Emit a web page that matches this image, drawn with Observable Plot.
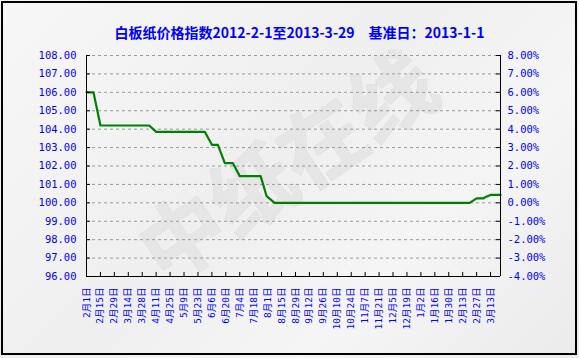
<!DOCTYPE html>
<html>
<head>
<meta charset="utf-8">
<script src="https://cdn.jsdelivr.net/npm/d3@7"></script>
<script src="https://cdn.jsdelivr.net/npm/@observablehq/plot@0.6"></script>
<style>
  html, body { margin: 0; padding: 0; background: #fff; }
  #wrap { position: relative; width: 579px; height: 358px; overflow: hidden;
          background: linear-gradient(135deg, #f7f7f7 0%, #efefef 45%, #f5f5f5 70%, #ebebeb 100%); }
  #border { position: absolute; left: 1px; top: 1px; width: 576px; height: 354px;
            border: 2px solid #000; box-sizing: border-box; pointer-events: none; }
  #chart { position: absolute; left: 0; top: 0; }
</style>
</head>
<body>
<div id="wrap"><div id="chart"></div><div id="border"></div></div>
<script>
// ---- data ----
const titleText = "白板纸价格指数2012-2-1至2013-3-29　基准日：2013-1-1";
const seriesDates = ["2012-02-01","2012-02-08","2012-02-15","2012-04-04","2012-04-11","2012-05-30",
  "2012-06-06","2012-06-12","2012-06-19","2012-06-27","2012-07-04","2012-07-25","2012-07-31",
  "2012-08-08","2013-02-20","2013-02-27","2013-03-06","2013-03-08","2013-03-13","2013-03-23"];
const seriesValues = [106.0,106.0,104.2,104.2,103.85,103.85,
  103.15,103.15,102.16,102.16,101.45,101.45,100.36,
  100.0,100.0,100.24,100.24,100.32,100.43,100.43];
const xTickDates = ["2012-02-01","2012-02-15","2012-02-29","2012-03-14","2012-03-28","2012-04-11",
  "2012-04-25","2012-05-09","2012-05-23","2012-06-06","2012-06-20","2012-07-04","2012-07-18",
  "2012-08-01","2012-08-15","2012-08-29","2012-09-12","2012-09-26","2012-10-10","2012-10-24",
  "2012-11-07","2012-11-21","2012-12-05","2012-12-19","2013-01-02","2013-01-16","2013-01-30",
  "2013-02-13","2013-02-27","2013-03-13"];
const xTickLabels = ["2月1日","2月15日","2月29日","3月14日","3月28日","4月11日","4月25日","5月9日",
  "5月23日","6月6日","6月20日","7月4日","7月18日","8月1日","8月15日","8月29日","9月12日","9月26日",
  "10月10日","10月24日","11月7日","11月21日","12月5日","12月19日","1月2日","1月16日","1月30日",
  "2月13日","2月27日","3月13日"];
const yTicks = [96,97,98,99,100,101,102,103,104,105,106,107,108];
const gridValues = [97,98,99,100,101,102,103,104,105,106,107,108];
const baseValue = 100;
const xStart = "2012-02-01", xEnd = "2013-03-23";

// ---- build ----
const D = s => new Date(s + "T00:00:00Z");
const DAY = 86400000;
const start = D(xStart), end = D(xEnd);
const data = seriesDates.map((d, i) => ({date: D(d), value: seriesValues[i]}));
const tickDates = xTickDates.map(D);
const labelMap = new Map(tickDates.map((d, i) => [+d, xTickLabels[i]]));
const blue = "#0000ff";
const mono = "'DejaVu Sans Mono', monospace";

const chart = Plot.plot({
  width: 579, height: 358,
  marginTop: 55, marginBottom: 82, marginLeft: 86, marginRight: 79,
  style: {background: "transparent", overflow: "visible"},
  x: {type: "utc", domain: [start, end]},
  y: {domain: [96, 108]},
  marks: [
    Plot.text(["中纸在线"], {frameAnchor: "middle", text: d => d, rotate: -34, fontSize: 84,
      fontWeight: "bold", fontFamily: "'Noto Sans CJK SC'", fill: "#e6e6e6", stroke: "#dcdcdc",
      strokeWidth: 1, dx: -4, dy: 4}),
    Plot.ruleY(gridValues, {stroke: "#999", strokeDasharray: "3,3", strokeWidth: 1}),
    Plot.line(data, {x: "date", y: "value", stroke: "#008000", strokeWidth: 2.2}),
    Plot.ruleX([start, end], {y1: 96, y2: 108, stroke: "#000", strokeWidth: 1}),
    Plot.ruleY([96], {stroke: "#000", strokeWidth: 1}),
    Plot.ruleY(yTicks, {x1: start, x2: new Date(+start + 4 * DAY), stroke: "#000"}),
    Plot.ruleY(yTicks, {x1: new Date(+end - 4 * DAY), x2: end, stroke: "#000"}),
    Plot.ruleX(tickDates, {y1: 96, y2: 96.22, stroke: "#000"}),
    Plot.axisY({anchor: "left", ticks: yTicks, tickSize: 0, tickPadding: 10, label: null,
      tickFormat: d => d.toFixed(2), fill: blue, fontFamily: mono, fontSize: 10.5}),
    Plot.axisY({anchor: "right", ticks: yTicks, tickSize: 0, tickPadding: 7, label: null,
      tickFormat: d => (d - baseValue).toFixed(2) + "%", fill: blue, fontFamily: mono, fontSize: 10.5}),
    Plot.axisX({anchor: "bottom", ticks: tickDates, tickSize: 0, tickPadding: 11, tickRotate: -90,
      label: null, tickFormat: d => labelMap.get(+d), fill: blue,
      fontFamily: "'DejaVu Sans Mono', 'Noto Sans CJK SC'", fontSize: 9.5}),
    Plot.text([titleText], {frameAnchor: "top", text: d => d, dy: -27, dx: 6, fontSize: 14,
      fontWeight: "bold", fontFamily: "'Noto Sans CJK SC'", fill: blue})
  ]
});
document.getElementById("chart").appendChild(chart);
</script>
</body>
</html>
